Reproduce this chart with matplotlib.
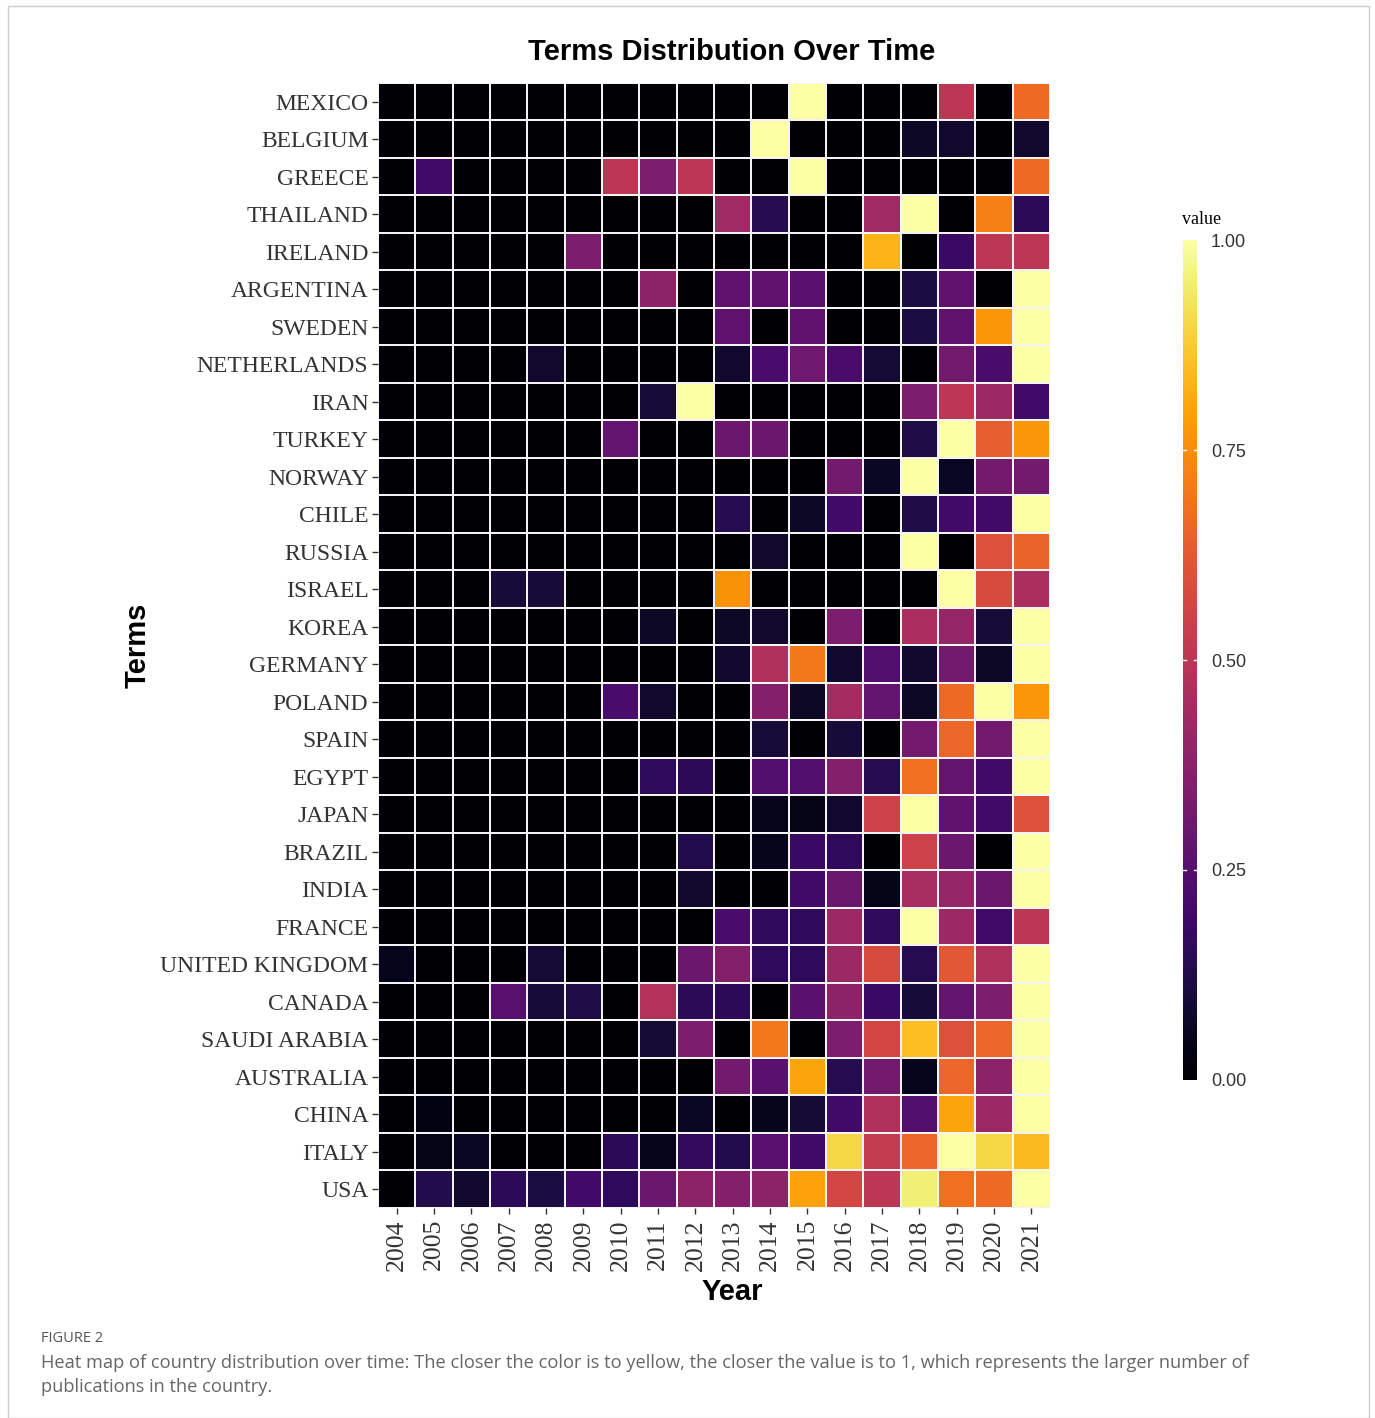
import matplotlib.pyplot as plt
import numpy as np
from matplotlib.patches import Rectangle

years = [str(y) for y in range(2004, 2022)]
countries = ["MEXICO", "BELGIUM", "GREECE", "THAILAND", "IRELAND", "ARGENTINA",
             "SWEDEN", "NETHERLANDS", "IRAN", "TURKEY", "NORWAY", "CHILE", "RUSSIA",
             "ISRAEL", "KOREA", "GERMANY", "POLAND", "SPAIN", "EGYPT", "JAPAN",
             "BRAZIL", "INDIA", "FRANCE", "UNITED KINGDOM", "CANADA", "SAUDI ARABIA",
             "AUSTRALIA", "CHINA", "ITALY", "USA"]

# values by year, 2004 -> 2021
mexico      = [0, 0, 0, 0, 0, 0, 0, 0, 0, 0, 0, 1.0, 0, 0, 0, 0.50, 0, 0.67]
belgium     = [0, 0, 0, 0, 0, 0, 0, 0, 0, 0, 1.0, 0, 0, 0, 0.07, 0.08, 0, 0.08]
greece      = [0, 0.20, 0, 0, 0, 0, 0.50, 0.34, 0.50, 0, 0, 1.0, 0, 0, 0, 0, 0, 0.67]
thailand    = [0, 0, 0, 0, 0, 0, 0, 0, 0, 0.43, 0.14, 0, 0, 0.43, 1.0, 0, 0.72, 0.15]
ireland     = [0, 0, 0, 0, 0, 0.34, 0, 0, 0, 0, 0, 0, 0, 0.83, 0, 0.18, 0.50, 0.50]
argentina   = [0, 0, 0, 0, 0, 0, 0, 0.38, 0, 0.27, 0.27, 0.26, 0, 0, 0.11, 0.27, 0, 1.0]
sweden      = [0, 0, 0, 0, 0, 0, 0, 0, 0, 0.27, 0, 0.27, 0, 0, 0.11, 0.27, 0.77, 1.0]
netherlands = [0, 0, 0, 0, 0.08, 0, 0, 0, 0, 0.08, 0.22, 0.31, 0.22, 0.09, 0, 0.32, 0.22, 1.0]
iran        = [0, 0, 0, 0, 0, 0, 0, 0.10, 1.0, 0, 0, 0, 0, 0, 0.34, 0.50, 0.42, 0.20]
turkey      = [0, 0, 0, 0, 0, 0, 0.28, 0, 0, 0.30, 0.30, 0, 0, 0, 0.12, 1.0, 0.64, 0.77]
norway      = [0, 0, 0, 0, 0, 0, 0, 0, 0, 0, 0, 0, 0.32, 0.06, 1.0, 0.06, 0.32, 0.32]
chile       = [0, 0, 0, 0, 0, 0, 0, 0, 0, 0.14, 0, 0.07, 0.20, 0, 0.12, 0.20, 0.20, 1.0]
russia      = [0, 0, 0, 0, 0, 0, 0, 0, 0, 0, 0.08, 0, 0, 0, 1.0, 0, 0.60, 0.65]
israel      = [0, 0, 0, 0.10, 0.10, 0, 0, 0, 0, 0.76, 0, 0, 0, 0, 0, 1.0, 0.58, 0.46]
korea       = [0, 0, 0, 0, 0, 0, 0, 0.07, 0, 0.07, 0.08, 0, 0.34, 0, 0.46, 0.40, 0.10, 1.0]
germany     = [0, 0, 0, 0, 0, 0, 0, 0, 0, 0.08, 0.47, 0.70, 0.08, 0.24, 0.08, 0.32, 0.07, 1.0]
poland      = [0, 0, 0, 0, 0, 0, 0.22, 0.08, 0, 0, 0.36, 0.07, 0.44, 0.28, 0.07, 0.67, 1.0, 0.77]
spain       = [0, 0, 0, 0, 0, 0, 0, 0, 0, 0, 0.10, 0, 0.10, 0, 0.32, 0.66, 0.32, 1.0]
egypt       = [0, 0, 0, 0, 0, 0, 0, 0.16, 0.15, 0, 0.24, 0.24, 0.36, 0.14, 0.68, 0.28, 0.20, 1.0]
japan       = [0, 0, 0, 0, 0, 0, 0, 0, 0, 0, 0.05, 0.04, 0.08, 0.55, 1.0, 0.27, 0.20, 0.60]
brazil      = [0, 0, 0, 0, 0, 0, 0, 0, 0.13, 0, 0.05, 0.18, 0.16, 0, 0.55, 0.30, 0, 1.0]
india       = [0, 0, 0, 0, 0, 0, 0, 0, 0.08, 0, 0, 0.20, 0.30, 0.04, 0.45, 0.40, 0.30, 1.0]
france      = [0, 0, 0, 0, 0, 0, 0, 0, 0, 0.22, 0.16, 0.16, 0.42, 0.16, 1.0, 0.42, 0.20, 0.50]
uk          = [0.05, 0, 0, 0, 0.09, 0, 0, 0, 0.30, 0.36, 0.16, 0.16, 0.42, 0.58, 0.14, 0.62, 0.47, 1.0]
canada      = [0, 0, 0, 0.25, 0.10, 0.12, 0, 0.48, 0.15, 0.15, 0, 0.26, 0.38, 0.18, 0.10, 0.28, 0.34, 1.0]
saudi       = [0, 0, 0, 0, 0, 0, 0, 0.09, 0.34, 0, 0.70, 0, 0.34, 0.57, 0.85, 0.60, 0.66, 1.0]
australia   = [0, 0, 0, 0, 0, 0, 0, 0, 0, 0.32, 0.26, 0.80, 0.14, 0.32, 0.05, 0.66, 0.38, 1.0]
china       = [0, 0.03, 0, 0, 0, 0, 0, 0, 0.06, 0, 0.05, 0.09, 0.20, 0.47, 0.24, 0.80, 0.42, 1.0]
italy       = [0, 0.04, 0.06, 0, 0, 0, 0.15, 0.05, 0.17, 0.13, 0.25, 0.20, 0.90, 0.52, 0.66, 1.0, 0.90, 0.84]
usa         = [0, 0.13, 0.08, 0.15, 0.11, 0.20, 0.16, 0.30, 0.38, 0.36, 0.38, 0.79, 0.57, 0.50, 0.95, 0.68, 0.67, 1.0]

Z = np.array([mexico, belgium, greece, thailand, ireland, argentina, sweden,
              netherlands, iran, turkey, norway, chile, russia, israel, korea,
              germany, poland, spain, egypt, japan, brazil, india, france, uk,
              canada, saudi, australia, china, italy, usa])

serif = "Liberation Serif"
sans = "Liberation Sans"

fig = plt.figure(figsize=(13.75, 14.18), dpi=100)
fig.patches.append(Rectangle((8 / 1375, 0), 1361 / 1375, 1 - 6 / 1418,
                             transform=fig.transFigure, fill=False,
                             edgecolor="#cccccc", lw=1))

ax = fig.add_axes([0.275, 0.1481, 0.4887, 0.7934])
mesh = ax.pcolormesh(Z, cmap="inferno", vmin=0, vmax=1,
                     edgecolors="#f4f4f4", linewidth=1.3)
ax.set_xlim(0, len(years))
ax.set_ylim(len(countries), 0)
ax.set_xticks(np.arange(len(years)) + 0.5)
ax.set_xticklabels(years, rotation=90, fontsize=18.5, family=serif, color="#333333")
ax.set_yticks(np.arange(len(countries)) + 0.5)
ax.set_yticklabels(countries, fontsize=17, family=serif, color="#333333")
ax.tick_params(length=4, width=1, color="#333333", pad=3)
ax.tick_params(axis="x", pad=4)
for s in ax.spines.values():
    s.set_visible(False)

fig.text(732 / 1375, 1 - 52 / 1418, "Terms Distribution Over Time", fontsize=21,
         fontweight="bold", family=sans, ha="center", va="center")
fig.text(732 / 1375, 1 - 1292 / 1418, "Year", fontsize=21, fontweight="bold",
         family=sans, ha="center", va="center")
fig.text(138 / 1375, 1 - 645 / 1418, "Terms", fontsize=21, fontweight="bold",
         family=sans, ha="center", va="center", rotation=90)

cax = fig.add_axes([0.8604, 0.2384, 0.0102, 0.5923])
cb = fig.colorbar(mesh, cax=cax, ticks=[0, 0.25, 0.5, 0.75, 1.0])
cb.outline.set_visible(False)
cb.ax.set_yticklabels(["0.00", "0.25", "0.50", "0.75", "1.00"],
                      fontsize=13, family=sans, color="#333333")
cb.ax.tick_params(length=0, pad=10)
for t in [0.25, 0.5, 0.75]:
    cb.ax.axhline(t, xmin=0, xmax=0.2, color="white", lw=1)
    cb.ax.axhline(t, xmin=0.8, xmax=1, color="white", lw=1)
fig.text(1182 / 1375, 1 - 219 / 1418, "value", fontsize=13, family=serif,
         ha="left", va="center")

fig.text(41 / 1375, 1 - 1338 / 1418, "FIGURE 2", fontsize=10.5, family="Open Sans",
         color="#555555", va="center")
fig.text(41 / 1375, 1 - 1363 / 1418,
         "Heat map of country distribution over time: The closer the color is to yellow, "
         "the closer the value is to 1, which represents the larger number of",
         fontsize=13.15, family="Open Sans", color="#666666", va="center")
fig.text(41 / 1375, 1 - 1387 / 1418, "publications in the country.",
         fontsize=13.15, family="Open Sans", color="#666666", va="center")

fig.savefig("out.png", dpi=100)
